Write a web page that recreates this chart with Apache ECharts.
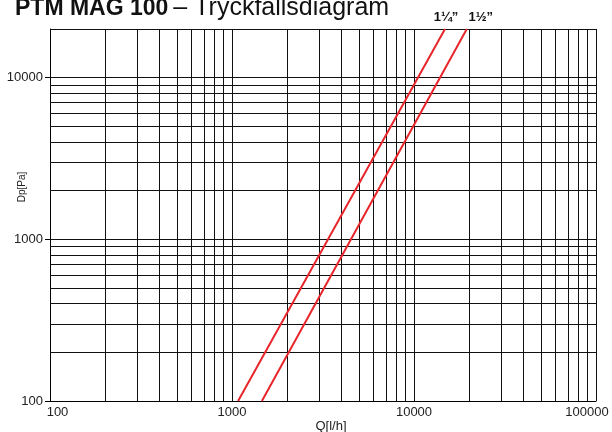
<!DOCTYPE html>
<html>
<head>
<meta charset="utf-8">
<script src="https://cdn.jsdelivr.net/npm/echarts@6/dist/echarts.min.js"></script>
<style>
  html, body { margin: 0; padding: 0; background: #fff; }
  #chart { width: 612px; height: 432px; }
</style>
</head>
<body>
<div id="chart"></div>
<script>
// flow Q [l/h] and pressure drop Dp [Pa]
var pipeNames = ['1\u00BC\u201D', '1\u00BD\u201D']
var qSmall = [1080, 14800]
var dpSmall = [100, 20000]
var qLarge = [1460, 19500]
var dpLarge = [100, 20000]

// grid lines of the log paper
var qGrid = [200, 300, 400, 500, 600, 700, 800, 900, 1000,
  2000, 3000, 4000, 5000, 6000, 7000, 8000, 9000, 10000,
  20000, 30000, 40000, 50000, 60000, 70000, 80000, 90000, 100000]
var dpGrid = [200, 300, 400, 500, 600, 700, 800, 900, 1000,
  2000, 3000, 4000, 5000, 6000, 7000, 8000, 9000, 10000, 20000]

var font = 'Liberation Sans, Arial, sans-serif'

function pairs(xs, ys) {
  return xs.map(function (x, i) { return [x, ys[i]] })
}

function plain(v) {
  return String(Math.round(v))
}

// end labels of the Q axis sit a bit inside, like on the original sheet
function qLabel(v) {
  if (v <= 100) return '{first|' + plain(v) + '}'
  if (v >= 100000) return '{last|' + plain(v) + '}'
  return plain(v)
}

var gridLines = []
qGrid.forEach(function (v) { gridLines.push({ xAxis: v }) })
dpGrid.forEach(function (v) { gridLines.push({ yAxis: v }) })

function pipeSeries(name, data, offset) {
  return {
    name: name,
    type: 'line',
    data: data,
    z: 5,
    symbol: 'circle',
    symbolSize: 0.1,
    showSymbol: true,
    clip: false,
    itemStyle: { color: '#e8252a' },
    lineStyle: { color: '#e8252a', width: 2 },
    label: {
      show: true,
      position: 'top',
      distance: 5,
      offset: offset,
      formatter: function (p) { return p.dataIndex === data.length - 1 ? name : '' },
      fontFamily: font,
      fontWeight: 'bold',
      fontSize: 13,
      color: '#111'
    }
  }
}

var chart = echarts.init(document.getElementById('chart'))
chart.setOption({
  animation: false,
  title: {
    left: 10,
    top: -9,
    text: '{b|PTM MAG 100} {n|\u2013 Tryckfallsdiagram}',
    textStyle: {
      rich: {
        b: { fontFamily: font, fontSize: 23, fontWeight: 'bold', color: '#111' },
        n: { fontFamily: font, fontSize: 25, fontWeight: 'normal', color: '#111' }
      }
    }
  },
  grid: { left: 50, right: 16, top: 29, bottom: 31, containLabel: false, outerBoundsMode: 'none' },
  xAxis: {
    type: 'log',
    min: 100,
    max: 100000,
    name: 'Q[l/h]',
    nameLocation: 'middle',
    nameGap: 19,
    nameMoveOverlap: false,
    nameTextStyle: { fontFamily: font, fontSize: 13, color: '#222', padding: [0, 0, 0, 16] },
    axisLine: { lineStyle: { color: '#000', width: 1 } },
    axisTick: { show: false },
    splitLine: { show: false },
    axisLabel: {
      fontFamily: font, fontSize: 13, color: '#222', margin: 5,
      formatter: qLabel,
      rich: {
        first: { fontFamily: font, fontSize: 13, color: '#222', padding: [0, 0, 0, 15] },
        last: { fontFamily: font, fontSize: 13, color: '#222', padding: [0, 18, 0, 0] }
      }
    }
  },
  yAxis: {
    type: 'log',
    min: 100,
    max: 20000,
    name: 'Dp[Pa]',
    nameLocation: 'middle',
    nameGap: 23,
    nameMoveOverlap: false,
    nameTextStyle: { fontFamily: font, fontSize: 10, color: '#222', padding: [0, 0, 0, 56] },
    axisLine: { show: true, lineStyle: { color: '#000', width: 1 } },
    axisTick: { show: true, length: 5, lineStyle: { color: '#000' } },
    splitLine: { show: false },
    axisLabel: {
      fontFamily: font, fontSize: 13, color: '#222', margin: 7,
      formatter: plain,
      showMaxLabel: false
    }
  },
  series: [
    {
      type: 'line',
      data: [],
      z: 1,
      silent: true,
      markLine: {
        silent: true,
        symbol: 'none',
        label: { show: false },
        lineStyle: { color: '#111', width: 1, type: 'solid' },
        data: gridLines
      }
    },
    pipeSeries(pipeNames[0], pairs(qSmall, dpSmall), [1, 0]),
    pipeSeries(pipeNames[1], pairs(qLarge, dpLarge), [14, 0])
  ]
})
</script>
</body>
</html>
